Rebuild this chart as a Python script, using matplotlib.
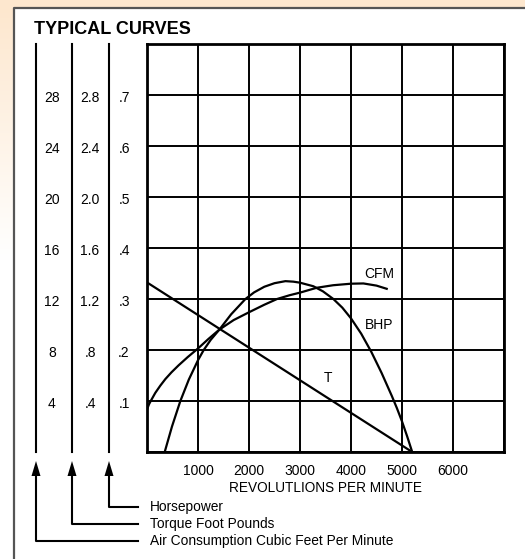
import numpy as np
import matplotlib
matplotlib.use("Agg")
import matplotlib.pyplot as plt
from matplotlib.transforms import blended_transform_factory

plt.rcParams['font.family'] = ['Liberation Sans', 'DejaVu Sans']

# ---- data ----
rpm_ticks = [0, 1000, 2000, 3000, 4000, 5000, 6000, 7000]
rpm_labels = ['', '1000', '2000', '3000', '4000', '5000', '6000', '']

hp_ticks = [0.1, 0.2, 0.3, 0.4, 0.5, 0.6, 0.7]
torque_ticks = [0.4, 0.8, 1.2, 1.6, 2.0, 2.4, 2.8]
cfm_ticks = [4, 8, 12, 16, 20, 24, 28]
hp_labels = ['.1', '.2', '.3', '.4', '.5', '.6', '.7']
torque_labels = ['.4', '.8', '1.2', '1.6', '2.0', '2.4', '2.8']
cfm_labels = ['4', '8', '12', '16', '20', '24', '28']

# brake horsepower
bhp_rpm = [347, 490, 654, 820, 1000, 1112, 1250, 1419, 1650, 1930, 2100,
           2300, 2500, 2714, 2870, 3000, 3262, 3450, 3654, 3830, 4000, 4200,
           4400, 4600, 4800, 4900, 5000, 5100, 5200]
bhp = [0.0, 0.05, 0.1, 0.142, 0.18, 0.2, 0.22, 0.24, 0.27, 0.3, 0.313,
       0.324, 0.331, 0.335, 0.334, 0.332, 0.325, 0.315, 0.3, 0.283, 0.262, 0.232,
       0.196, 0.155, 0.11, 0.086, 0.06, 0.031, 0.0]

# torque, foot pounds
t_rpm = [0, 5200]
torque = [1.33, 0.0]

# air consumption, cubic feet per minute
cfm_rpm = [0, 40, 80, 163, 260, 360, 480, 620, 800, 1000, 1200, 1419, 1700,
           2000, 2300, 2550, 2800, 3000, 3327, 3650, 4000, 4243, 4500, 4700]
cfm = [3.34, 3.75, 4.05, 4.64, 5.2, 5.72, 6.25, 6.8, 7.45, 8.12, 8.85, 9.6, 10.35,
       10.96, 11.55, 12.0, 12.3, 12.5, 12.88, 13.08, 13.2, 13.22, 13.05, 12.8]

# the three scales share the grid: convert torque / cfm to hp grid units
t_scale = hp_ticks[0] / torque_ticks[0]
c_scale = hp_ticks[0] / cfm_ticks[0]

fig = plt.figure(figsize=(5.25, 5.59), dpi=100)

# overlay in pixel coords for the frame, scales and legend
ov = fig.add_axes([0, 0, 1, 1])
ov.set_xlim(0, 525)
ov.set_ylim(559, 0)
ov.axis('off')

peach = np.array([253, 231, 206]) / 255.0
grad = np.linspace(0, 1, 256)[:, None]
strip = np.ones((256, 1, 3)) * (1 - grad[..., None]) * peach + grad[..., None] * np.ones(3)
strip = np.clip(strip, 0, 1)
ov.imshow(strip, extent=[0, 14, 260, 7], aspect='auto', zorder=0)
ov.fill_between([0, 525], 0, 7, color=peach, zorder=0, lw=0)
ov.plot([14, 14, 525], [559, 7.5, 7.5], color='#555555', lw=1.6, zorder=1)

ov.text(34, 29, 'TYPICAL CURVES', fontsize=13, fontweight='bold',
        va='center', ha='left')

# scale lines, arrows, and leader lines to the legend text
scale_x = [36, 72, 109]
bend_y = [541, 524, 507]
names = ['Air Consumption Cubic Feet Per Minute', 'Torque Foot Pounds', 'Horsepower']
for sx, by, name in zip(scale_x, bend_y, names):
    ov.plot([sx, sx], [44, 452], color='black', lw=1.5)
    ov.plot([sx, sx, 138], [472, by, by], color='black', lw=1.5)
    ov.fill([sx - 4.5, sx + 4.5, sx], [476, 476, 461], color='black', lw=0)
    ov.text(150, by, name, fontsize=9.9, va='center', ha='left')

# main chart
ax = fig.add_axes([147 / 525, (559 - 452) / 559, (504 - 147) / 525, (452 - 44) / 559])
ax.set_xlim(0, 7000)
ax.set_ylim(0, 0.8)
ax.set_xticks(rpm_ticks)
ax.set_xticklabels(rpm_labels, fontsize=10)
ax.set_yticks(np.arange(0, 0.81, 0.1))
ax.tick_params(length=0, labelleft=False, axis='both')
ax.tick_params(axis='x', pad=8.5)
ax.grid(color='black', lw=1.4)
for s in ax.spines.values():
    s.set_linewidth(2)
ax.set_xlabel('REVOLUTLIONS PER MINUTE', fontsize=9.8, labelpad=2.5)

ax.plot(bhp_rpm, bhp, color='black', lw=1.6, solid_joinstyle='round')
ax.plot(t_rpm, np.array(torque) * t_scale, color='black', lw=1.6)
ax.plot(cfm_rpm, np.array(cfm) * c_scale, color='black', lw=1.6, solid_joinstyle='round')

ax.text(4550, 0.349, 'CFM', fontsize=10, ha='center', va='center')
ax.text(4550, 0.249, 'BHP', fontsize=10, ha='center', va='center')
ax.text(3540, 0.146, 'T', fontsize=10, ha='center', va='center')

# scale labels at the grid heights
tr = blended_transform_factory(ov.transData, ax.transData)
for i, v in enumerate(hp_ticks):
    ov.text(52, v - 0.006, cfm_labels[i], transform=tr, fontsize=10, ha='center', va='center')
    ov.text(90, v - 0.006, torque_labels[i], transform=tr, fontsize=10, ha='center', va='center')
    ov.text(124, v - 0.006, hp_labels[i], transform=tr, fontsize=10, ha='center', va='center')

fig.savefig('out.png', dpi=100)
